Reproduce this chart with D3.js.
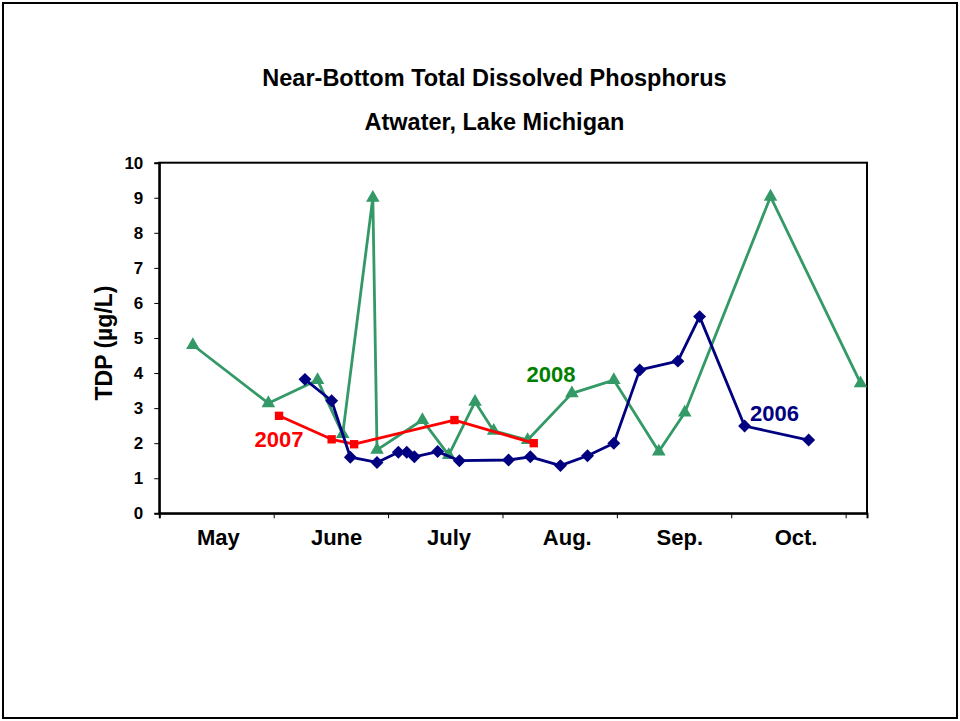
<!DOCTYPE html>
<html>
<head>
<meta charset="utf-8">
<script src="https://cdn.jsdelivr.net/npm/d3@7"></script>
<style>
  body { margin: 0; background: #fff; }
  text { font-family: "Liberation Sans", Arial, sans-serif; font-weight: bold; }
</style>
</head>
<body>
<svg id="chart" width="960" height="721"></svg>
<script>
// x values are days counted from May 1
const monthLabels = ['May', 'June', 'July', 'Aug.', 'Sep.', 'Oct.'];
const monthLabelDays = [15.5, 46.5, 76, 107, 136.5, 167];
const monthTickDays = [0, 30, 60, 90, 120, 150, 180];
const yTicks = [0, 1, 2, 3, 4, 5, 6, 7, 8, 9, 10];

const days2006 = [38.2, 45.2, 50.1, 57.1, 62.7, 64.9, 66.9, 73.0, 78.7, 91.6, 97.3, 105.2, 112.3, 119.2, 126.0, 136.0, 141.7, 153.5, 170.3];
const tdp2006  = [3.82, 3.21, 1.60, 1.45, 1.74, 1.74, 1.61, 1.76, 1.50, 1.52, 1.61, 1.36, 1.64, 2.00, 4.09, 4.34, 5.61, 2.49, 2.09];

const days2007 = [31.4, 45.2, 51.1, 77.4, 98.2];
const tdp2007  = [2.78, 2.11, 1.97, 2.66, 2.00];

const days2008 = [8.8, 28.6, 41.5, 48.1, 56.0, 57.1, 69.0, 75.9, 82.8, 87.7, 96.6, 108.2, 119.2, 131.0, 137.8, 160.3, 183.9];
const tdp2008  = [4.80, 3.14, 3.80, 2.26, 9.00, 1.81, 2.66, 1.66, 3.18, 2.35, 2.09, 3.42, 3.80, 1.76, 2.87, 9.03, 3.71];

const svg = d3.select('#chart');
const width = 960, height = 721;
const margin = { top: 162.7, right: 93, bottom: 207.7, left: 159.3 };

// outer frame
svg.append('rect')
  .attr('x', 3).attr('y', 3)
  .attr('width', width - 6).attr('height', height - 6)
  .attr('fill', 'none').attr('stroke', '#000').attr('stroke-width', 2);

const x = d3.scaleLinear()
  .domain([0, 185.6])
  .range([margin.left, width - margin.right]);

const y = d3.scaleLinear()
  .domain([0, 10])
  .range([height - margin.bottom, margin.top]);

// plot area border
svg.append('rect')
  .attr('x', x(0)).attr('y', y(10))
  .attr('width', x(185.6) - x(0)).attr('height', y(0) - y(10))
  .attr('fill', 'none').attr('stroke', '#000').attr('stroke-width', 2);

// y axis
const yAxis = svg.append('g')
  .attr('transform', 'translate(' + x(0) + ',0)')
  .call(d3.axisLeft(y).tickValues(yTicks).tickSize(5).tickPadding(11));
yAxis.select('.domain').attr('stroke-width', 2);
yAxis.selectAll('text').style('font-size', '17px').attr('fill', '#000');

// x axis ticks (labels placed separately, centred between ticks)
const xAxis = svg.append('g')
  .attr('transform', 'translate(0,' + y(0) + ')')
  .call(d3.axisBottom(x).tickValues(monthTickDays).tickSize(5).tickFormat(''));
xAxis.select('.domain').attr('stroke-width', 2);

svg.selectAll('.month')
  .data(monthLabels)
  .enter()
  .append('text')
  .attr('class', 'month')
  .attr('x', (d, i) => x(monthLabelDays[i]))
  .attr('y', 545)
  .attr('text-anchor', 'middle')
  .style('font-size', '22px')
  .text(d => d);

// titles
svg.append('text')
  .attr('x', 494.5).attr('y', 86)
  .attr('text-anchor', 'middle')
  .style('font-size', '23.5px')
  .text('Near-Bottom Total Dissolved Phosphorus');
svg.append('text')
  .attr('x', 494.5).attr('y', 130)
  .attr('text-anchor', 'middle')
  .style('font-size', '23.5px')
  .text('Atwater, Lake Michigan');

svg.append('text')
  .attr('transform', 'translate(112,343) rotate(-90)')
  .attr('text-anchor', 'middle')
  .style('font-size', '23px')
  .text('TDP (µg/L)');

const line = d3.line().x(d => x(d[0])).y(d => y(d[1]));

// square diamond marker (rotated square), as Excel draws it
const diamond = { draw(ctx, size) { const r = Math.sqrt(size / 2); ctx.moveTo(0, -r); ctx.lineTo(r, 0); ctx.lineTo(0, r); ctx.lineTo(-r, 0); ctx.closePath(); } };

function drawSeries(days, vals, color, symbolType, size) {
  const pts = days.map((d, i) => [d, vals[i]]);
  svg.append('path')
    .datum(pts)
    .attr('d', line)
    .attr('fill', 'none')
    .attr('stroke', color)
    .attr('stroke-width', 2.8)
    .attr('stroke-linejoin', 'round');
  svg.append('g').selectAll('path')
    .data(pts)
    .enter()
    .append('path')
    .attr('transform', d => 'translate(' + x(d[0]) + ',' + y(d[1]) + ')')
    .attr('d', d3.symbol().type(symbolType).size(size))
    .attr('fill', color);
}

drawSeries(days2008, tdp2008, '#339966', d3.symbolTriangle, 80);
drawSeries(days2007, tdp2007, '#ff0000', d3.symbolSquare, 70);
drawSeries(days2006, tdp2006, '#000080', diamond, 84);

// series labels
svg.append('text').attr('x', 279).attr('y', 447).attr('text-anchor', 'middle')
  .style('font-size', '22px').attr('fill', '#ff0000').text('2007');
svg.append('text').attr('x', 551).attr('y', 382).attr('text-anchor', 'middle')
  .style('font-size', '22px').attr('fill', '#008000').text('2008');
svg.append('text').attr('x', 774.5).attr('y', 421).attr('text-anchor', 'middle')
  .style('font-size', '22px').attr('fill', '#000080').text('2006');
</script>
</body>
</html>
